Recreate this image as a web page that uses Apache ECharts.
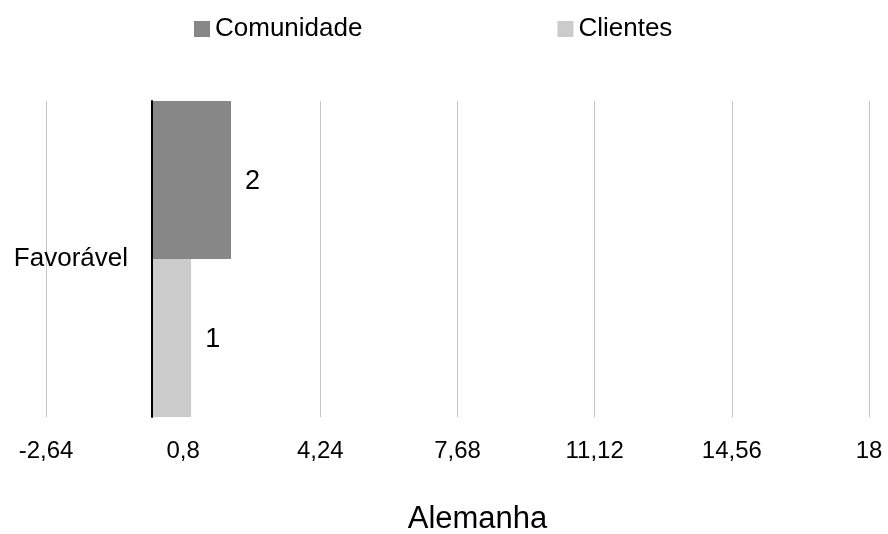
<!DOCTYPE html>
<html>
<head>
<meta charset="utf-8">
<script src="https://cdn.jsdelivr.net/npm/echarts@6/dist/echarts.min.js"></script>
<style>
  html, body { margin: 0; padding: 0; background: #fff; }
  #chart { width: 888px; height: 534px; }
</style>
</head>
<body>
<div id="chart"></div>
<script>
const categories = ['Favorável']
const seriesNames = ['Comunidade', 'Clientes']
const comunidade = [2]
const clientes = [1]
const tickValues = [-2.64, 0.8, 4.24, 7.68, 11.12, 14.56, 18]
const axisTitle = 'Alemanha'

const font = 'Liberation Sans, Arial, sans-serif'

const chart = echarts.init(document.getElementById('chart'))

const option = {
  animation: false,
  textStyle: { fontFamily: font },
  color: ['#878787', '#cbcbcb'],
  legend: {
    data: seriesNames,
    left: 189,
    top: 11,
    icon: 'rect',
    itemWidth: 16,
    itemHeight: 16,
    itemGap: 195,
    textStyle: { fontSize: 26, color: '#000', fontFamily: font }
  },
  grid: {
    left: 46,
    right: 19,
    top: 101,
    bottom: 117,
    containLabel: false,
    outerBoundsMode: 'none'
  },
  xAxis: {
    type: 'value',
    min: tickValues[0],
    max: tickValues[tickValues.length - 1],
    axisLine: { show: false },
    axisTick: { show: false, customValues: tickValues },
    splitLine: { show: true, lineStyle: { color: '#c4c4c4', width: 1 } },
    axisLabel: {
      customValues: tickValues,
      margin: 22,
      fontSize: 24,
      color: '#000',
      fontFamily: font,
      formatter: v => String(v).replace('.', ',')
    },
    name: axisTitle,
    nameLocation: 'middle',
    nameGap: 87,
    nameTextStyle: { fontSize: 31, color: '#000', fontFamily: font, padding: [0, 0, 0, 40] }
  },
  yAxis: {
    type: 'category',
    data: categories,
    z: 5,
    axisLine: { show: true, onZero: true, lineStyle: { color: '#000', width: 2 } },
    axisTick: { show: false },
    axisLabel: { margin: -82, fontSize: 26, color: '#000', fontFamily: font }
  },
  series: [
    {
      name: seriesNames[0],
      type: 'bar',
      data: comunidade,
      barGap: '0%',
      barCategoryGap: '0%',
      label: { show: true, position: 'right', distance: 14, offset: [0, 2], fontSize: 27, color: '#000', fontFamily: font }
    },
    {
      name: seriesNames[1],
      type: 'bar',
      data: clientes,
      barGap: '0%',
      barCategoryGap: '0%',
      label: { show: true, position: 'right', distance: 14, offset: [0, 2], fontSize: 27, color: '#000', fontFamily: font }
    }
  ]
}

chart.setOption(option)
</script>
</body>
</html>
